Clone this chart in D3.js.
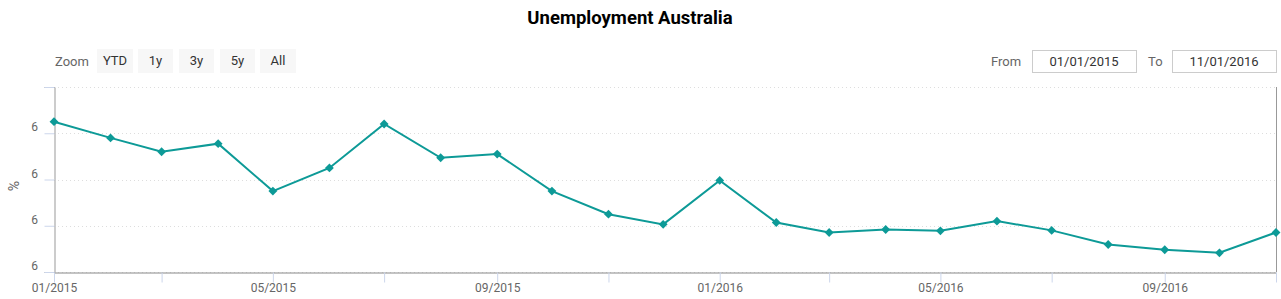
<!DOCTYPE html>
<html>
<head>
<meta charset="utf-8">
<script src="https://cdn.jsdelivr.net/npm/d3@7"></script>
<style>
  body { margin: 0; background: #fff; }
  text { font-family: Roboto, "Open Sans", sans-serif; }
</style>
</head>
<body>
<div id="chart"></div>
<script>
// monthly unemployment rate, Jan 2015 .. Nov 2016
var months = ["2015-01","2015-02","2015-03","2015-04","2015-05","2015-06","2015-07","2015-08",
  "2015-09","2015-10","2015-11","2015-12","2016-01","2016-02","2016-03","2016-04","2016-05",
  "2016-06","2016-07","2016-08","2016-09","2016-10","2016-11"];
var rates = [6.25, 6.18, 6.12, 6.155, 5.95, 6.05, 6.24, 6.094, 6.11, 5.95, 5.85, 5.806,
  5.996, 5.814, 5.771, 5.784, 5.778, 5.82, 5.78, 5.719, 5.696, 5.683, 5.771];
var yTicks = [5.6, 5.8, 6.0, 6.2, 6.4];
var zoomButtons = ["YTD", "1y", "3y", "5y", "All"];
var rangeFrom = "01/01/2015";
var rangeTo = "11/01/2016";

var width = 1281, height = 299;
var parse = d3.timeParse("%Y-%m");
var data = months.map(function(m, i) { return { date: parse(m), value: rates[i] }; });

var svg = d3.select("#chart").append("svg")
    .attr("width", width)
    .attr("height", height);

var x = d3.scaleTime()
    .domain([parse("2015-01"), parse("2016-11")])
    .range([54, 1276]);
var y = d3.scaleLinear()
    .domain([5.6, 6.4])
    .range([272, 87]);

// title
svg.append("text")
    .attr("x", 630).attr("y", 24)
    .attr("text-anchor", "middle")
    .style("font-size", "18.5px").style("font-weight", "bold").style("fill", "#000")
    .text("Unemployment Australia");

// range selector buttons
svg.append("text")
    .attr("x", 55).attr("y", 66)
    .style("font-size", "13px").style("fill", "#666")
    .text("Zoom");
var btnX = [97, 138, 179, 220, 260];
zoomButtons.forEach(function(b, i) {
  var bx = btnX[i];
  var bw = (i == 0 || i == 4) ? 36 : 35;
  svg.append("rect").attr("x", bx).attr("y", 49).attr("width", bw).attr("height", 24)
      .attr("fill", "#f7f7f7");
  svg.append("text").attr("x", bx + bw / 2).attr("y", 65)
      .attr("text-anchor", "middle")
      .style("font-size", "13px").style("fill", "#333")
      .text(b);
});

// date inputs
svg.append("text").attr("x", 991).attr("y", 66)
    .style("font-size", "13px").style("fill", "#666").text("From");
svg.append("text").attr("x", 1148).attr("y", 66)
    .style("font-size", "13px").style("fill", "#666").text("To");
[[1032, rangeFrom], [1172, rangeTo]].forEach(function(f) {
  svg.append("rect").attr("x", f[0] + 0.5).attr("y", 50.5).attr("width", 104).attr("height", 22)
      .attr("fill", "#fff").attr("stroke", "#ccc");
  svg.append("text").attr("x", f[0] + 52).attr("y", 66)
      .attr("text-anchor", "middle")
      .style("font-size", "13px").style("fill", "#333")
      .text(f[1]);
});

// grid lines
svg.append("g").selectAll("line")
    .data(yTicks).enter().append("line")
    .attr("x1", 54).attr("x2", 1276)
    .attr("y1", function(d) { return Math.round(y(d)) + 0.5; })
    .attr("y2", function(d) { return Math.round(y(d)) + 0.5; })
    .attr("stroke", "#ddd").attr("stroke-dasharray", "1,3");

// y axis
var yAxis = svg.append("g").attr("transform", "translate(54.5,0)")
    .call(d3.axisLeft(y).tickValues(yTicks).tickSize(10).tickFormat(""));
yAxis.select(".domain").attr("stroke", "#999");
yAxis.selectAll(".tick line").attr("stroke", "#ccd6eb");
svg.append("g").selectAll("text")
    .data(yTicks.slice(0, 4)).enter().append("text")
    .attr("x", 38).attr("y", function(d) { return y(d) - 2; })
    .attr("text-anchor", "end")
    .style("font-size", "12px").style("fill", "#666")
    .text(d3.format(".0f"));
svg.append("text")
    .attr("transform", "translate(19,186) rotate(-90)")
    .attr("text-anchor", "middle")
    .style("font-size", "14px").style("fill", "#666")
    .text("%");

// right border
svg.append("line").attr("x1", 1276.5).attr("x2", 1276.5).attr("y1", 87).attr("y2", 272)
    .attr("stroke", "#999");

// x axis
var fmt = d3.timeFormat("%m/%Y");
var xAxis = svg.append("g").attr("transform", "translate(0,272.5)")
    .call(d3.axisBottom(x).ticks(d3.timeMonth.every(2)).tickSize(10).tickSizeOuter(0)
      .tickFormat(function(d, i) { return i % 2 == 0 ? fmt(d) : ""; }));
xAxis.select(".domain").attr("stroke", "#888");
xAxis.selectAll(".tick line").attr("stroke", "#ccd6eb");
xAxis.selectAll(".tick text")
    .attr("y", 11).attr("dy", "0.71em")
    .style("font-family", "Roboto, sans-serif").style("font-size", "12px").style("fill", "#666");

// series
var line = d3.line()
    .x(function(d) { return x(d.date); })
    .y(function(d) { return y(d.value); });
svg.append("path")
    .datum(data)
    .attr("d", line)
    .attr("fill", "none")
    .attr("stroke", "#0d9a97")
    .attr("stroke-width", 2);

svg.append("g").selectAll("path")
    .data(data).enter().append("path")
    .attr("d", d3.symbol().type(d3.symbolDiamond2).size(50))
    .attr("transform", function(d) { return "translate(" + x(d.date) + "," + y(d.value) + ")"; })
    .attr("fill", "#0d9a97");
</script>
</body>
</html>
